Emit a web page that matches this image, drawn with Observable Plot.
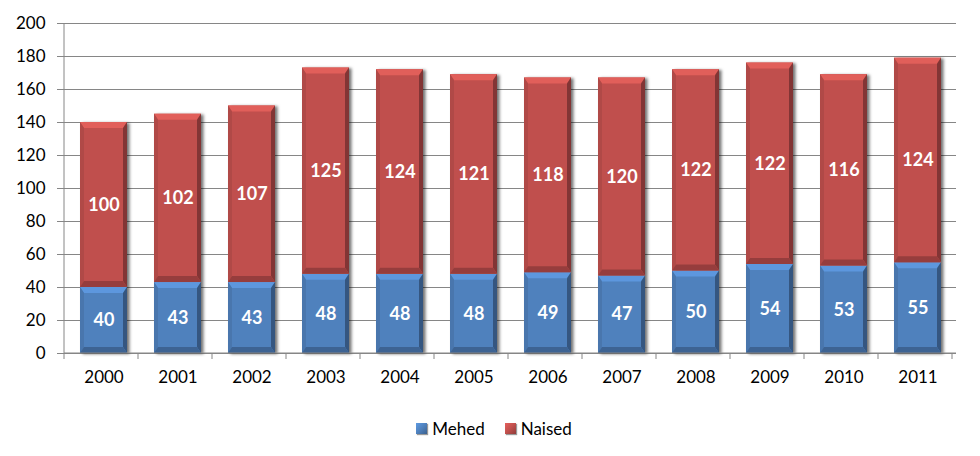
<!DOCTYPE html>
<html>
<head>
<meta charset="utf-8">
<script src="https://cdn.jsdelivr.net/npm/d3@7"></script>
<script src="https://cdn.jsdelivr.net/npm/@observablehq/plot@0.6"></script>
<style>
  html, body { margin: 0; padding: 0; background: #fff; }
  body { width: 980px; height: 456px; overflow: hidden; font-family: Lato, "Open Sans", sans-serif; }
  #legend { height: 56px; display: flex; justify-content: center; align-items: center; gap: 20px; font-size: 17px; color: #000; padding-left: 8px; box-sizing: border-box; }
  #legend .item { display: flex; align-items: center; gap: 5px; }
  #legend .sw { width: 11px; height: 11px; box-shadow: 1px 1px 1px rgba(0,0,0,0.4); }
</style>
</head>
<body>
<div id="chart"></div>
<div id="legend"></div>
<script>
const years = ["2000","2001","2002","2003","2004","2005","2006","2007","2008","2009","2010","2011"];
const mehed = [40, 43, 43, 48, 48, 48, 49, 47, 50, 54, 53, 55];
const naised = [100, 102, 107, 125, 124, 121, 118, 120, 122, 122, 116, 124];
const seriesNames = ["Mehed", "Naised"];
const seriesColors = ["#4f81bd", "#c0504d"];
const yTicks = [0, 20, 40, 60, 80, 100, 120, 140, 160, 180, 200];

const data = [
  ...years.map((y, i) => ({year: y, sex: seriesNames[0], value: mehed[i]})),
  ...years.map((y, i) => ({year: y, sex: seriesNames[1], value: naised[i]}))
];

const chart = Plot.plot({
  width: 980,
  height: 400,
  marginLeft: 64,
  marginRight: 24,
  marginTop: 23,
  marginBottom: 47,
  style: {fontFamily: "Lato, 'Open Sans', sans-serif", fontSize: "16.5px", color: "#000", background: "#fff"},
  x: {domain: years, paddingInner: 0.37, paddingOuter: 0.185, label: null},
  y: {domain: [0, 200], label: null},
  color: {domain: seriesNames, range: seriesColors},
  marks: [
    Plot.gridY(yTicks, {stroke: "#868686", strokeOpacity: 1}),
    Plot.axisY(yTicks, {tickSize: 7, tickPadding: 12, stroke: "#868686", fontSize: 17, label: null}),
    Plot.axisX({tickSize: 0, tickPadding: 17, fontSize: 17, label: null}),
    Plot.barY(data, {x: "year", y: "value", fill: "sex"}),
    Plot.text(data, Plot.stackY({x: "year", y: "value", text: "value", fill: "white", fontWeight: "bold", fontSize: 18}))
  ]
});
document.getElementById("chart").appendChild(chart);

// Decoration derived from Plot's own scales and rendered bars
const svg = d3.select(chart);
const xs = chart.scale("x");
const ys = chart.scale("y");
const y0 = ys.apply(0);
const y200 = ys.apply(200);
const left = xs.range[0], right = xs.range[1];

const defs = svg.insert("defs", ":first-child");
const f = defs.append("filter").attr("id", "shadow").attr("x", "-20%").attr("y", "-5%").attr("width", "150%").attr("height", "115%");
f.append("feDropShadow").attr("dx", 2.5).attr("dy", 1).attr("stdDeviation", 1.5).attr("flood-color", "#000").attr("flood-opacity", 0.55);

// axes lines
const axisG = svg.append("g").attr("stroke", "#868686");
axisG.append("line").attr("x1", left).attr("x2", left).attr("y1", y200).attr("y2", y0);
axisG.append("line").attr("x1", left).attr("x2", right).attr("y1", y0).attr("y2", y0);
const step = xs.step;
for (let i = 0; i <= years.length; i++) {
  const bx = left + i * step;
  axisG.append("line").attr("x1", bx).attr("x2", bx).attr("y1", y0).attr("y2", y0 + 6);
}

// bevels on bars
const barG = svg.select('g[aria-label="bar"]');
barG.attr("filter", "url(#shadow)");
barG.selectAll("rect").each(function() {
  const r = d3.select(this);
  const x = +r.attr("x"), y = +r.attr("y"), w = +r.attr("width"), h = +r.attr("height");
  const c = d3.color(r.attr("fill"));
  const b = Math.min(6, h / 2);
  const s = 4;
  const parent = this.parentNode;
  const next = this.nextSibling;
  const add = (pts, col) => {
    const p = document.createElementNS("http://www.w3.org/2000/svg", "polygon");
    p.setAttribute("points", pts.map(d => d.join(",")).join(" "));
    p.setAttribute("fill", col);
    parent.insertBefore(p, next);
  };
  add([[x, y], [x + w, y], [x + w - s, y + b], [x + s, y + b]], c.brighter(0.45).formatHex());
  add([[x, y], [x + s, y + b], [x + s, y + h - b], [x, y + h]], c.darker(0.25).formatHex());
  add([[x + w, y], [x + w, y + h], [x + w - s, y + h - b], [x + w - s, y + b]], c.darker(1.1).formatHex());
  add([[x, y + h], [x + w, y + h], [x + w - s, y + h - b], [x + s, y + h - b]], c.darker(0.7).formatHex());
});
// keep labels above
svg.select('g[aria-label="text"]').raise();

// legend
const lg = d3.select("#legend");
seriesNames.forEach((n, i) => {
  const it = lg.append("div").attr("class", "item");
  const c = d3.color(seriesColors[i]);
  it.append("div").attr("class", "sw")
    .style("background", `linear-gradient(135deg, ${c.brighter(0.5)} 0%, ${c} 50%, ${c.darker(0.8)} 100%)`);
  it.append("span").text(n);
});
</script>
</body>
</html>
